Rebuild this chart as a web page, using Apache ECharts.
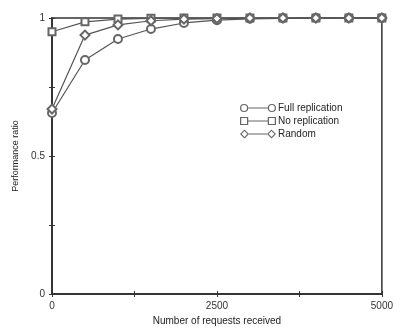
<!DOCTYPE html>
<html><head><meta charset="utf-8">
<script src="https://cdn.jsdelivr.net/npm/echarts@6/dist/echarts.min.js"></script>
<style>html,body{margin:0;padding:0;background:#fff}#c{width:396px;height:331px}</style>
</head><body><div id="c"></div>
<script>
const requests = [0, 500, 1000, 1500, 2000, 2500, 3000, 3500, 4000, 4500, 5000];
const fullReplication = [0.656, 0.848, 0.924, 0.96, 0.982, 0.992, 0.997, 0.999, 1.0, 1.0, 1.0];
const noReplication = [0.95, 0.986, 0.996, 0.999, 1.0, 1.0, 1.0, 1.0, 1.0, 1.0, 1.0];
const random = [0.67, 0.938, 0.975, 0.99, 0.996, 0.998, 1.0, 1.0, 1.0, 1.0, 1.0];
const xTickLabels = {0: '0', 2500: '2500', 5000: '5000'};
const yTickLabels = {0: '0', 0.5: '0.5', 1: '1'};

const font = 'Liberation Sans';
const lineCol = '#555';
const mkCol = '#666';
function pairs(ys){ return requests.map((x,i)=>[x, ys[i]]); }
function s(name, ys, sym, size){
  return {name, type:'line', data:pairs(ys), symbol:sym, symbolSize:size,
    showAllSymbol:true, smooth:false,
    lineStyle:{color:lineCol, width:1.2},
    itemStyle:{color:mkCol, borderColor:mkCol, borderWidth:1.3}};
}
const lineSeg = 'M8.5,4 L27.5,4 L27.5,5 L8.5,5 Z ';
const ringL = 'M0.5,4.5 A4,4 0 1,1 8.5,4.5 A4,4 0 1,1 0.5,4.5 Z M1.7,4.5 A2.8,2.8 0 1,0 7.3,4.5 A2.8,2.8 0 1,0 1.7,4.5 Z ';
const ringR = 'M27.5,4.5 A4,4 0 1,1 35.5,4.5 A4,4 0 1,1 27.5,4.5 Z M28.7,4.5 A2.8,2.8 0 1,0 34.3,4.5 A2.8,2.8 0 1,0 28.7,4.5 Z';
const sqL = 'M0.5,0.5 L8.5,0.5 L8.5,8.5 L0.5,8.5 Z M1.7,1.7 L1.7,7.3 L7.3,7.3 L7.3,1.7 Z ';
const sqR = 'M27.5,0.5 L35.5,0.5 L35.5,8.5 L27.5,8.5 Z M28.7,1.7 L28.7,7.3 L34.3,7.3 L34.3,1.7 Z';
const dmL = 'M4.5,0 L9,4.5 L4.5,9 L0,4.5 Z M4.5,1.6 L1.6,4.5 L4.5,7.4 L7.4,4.5 Z ';
const dmR = 'M31.5,0 L36,4.5 L31.5,9 L27,4.5 Z M31.5,1.6 L28.6,4.5 L31.5,7.4 L34.4,4.5 Z';

const chart = echarts.init(document.getElementById('c'), null, {renderer:'canvas'});
chart.setOption({
  animation:false,
  backgroundColor:'#fff',
  textStyle:{fontFamily:font},
  grid:{left:52, right:10, top:18, bottom:37, show:true, borderColor:'#333', borderWidth:1.5},
  legend:{
    left:235, top:98, orient:'vertical', itemGap:3, itemWidth:36, itemHeight:9,
    itemStyle:{borderWidth:0}, lineStyle:{width:0},
    textStyle:{fontFamily:font, fontSize:10, color:'#222', padding:[0,0,0,-3]},
    data:[
      {name:'Full replication', icon:'path://' + ringL + lineSeg + ringR},
      {name:'No replication', icon:'path://' + sqL + lineSeg + sqR},
      {name:'Random', icon:'path://' + dmL + 'M9,4 L27,4 L27,5 L9,5 Z ' + dmR}
    ]
  },
  xAxis:[{
    type:'value', min:0, max:5000, interval:1250, position:'bottom',
    name:'Number of requests received', nameLocation:'middle', nameGap:22,
    nameTextStyle:{fontFamily:font, fontSize:10, color:'#222'},
    axisLine:{lineStyle:{color:'#333', width:1.5}},
    axisTick:{inside:true, length:3, lineStyle:{color:'#333'}},
    splitLine:{show:false},
    axisLabel:{fontFamily:font, fontSize:10, color:'#333', margin:7,
      formatter:v=> xTickLabels[v] !== undefined ? xTickLabels[v] : ''}
  },{
    type:'value', min:0, max:5000, interval:1250, position:'top',
    axisLine:{show:true, lineStyle:{color:'#333', width:1.5}},
    axisTick:{inside:true, length:3, lineStyle:{color:'#333'}},
    axisLabel:{show:false}, splitLine:{show:false}
  }],
  yAxis:[{
    type:'value', min:0, max:1, interval:0.25, position:'left',
    name:'Performance ratio', nameLocation:'middle', nameGap:32, nameRotate:90,
    nameTextStyle:{fontFamily:font, fontSize:9, color:'#222'},
    axisLine:{show:true, lineStyle:{color:'#333', width:1.5}},
    axisTick:{inside:true, length:3, lineStyle:{color:'#333'}},
    splitLine:{show:false},
    axisLabel:{fontFamily:font, fontSize:10, color:'#333', margin:7,
      formatter:v=> yTickLabels[v] !== undefined ? yTickLabels[v] : ''}
  },{
    type:'value', min:0, max:1, interval:0.25, position:'right',
    axisLine:{show:true, lineStyle:{color:'#333', width:1.5}},
    axisTick:{inside:true, length:3, lineStyle:{color:'#333'}},
    axisLabel:{show:false}, splitLine:{show:false}
  }],
  series:[
    s('Full replication', fullReplication, 'emptyCircle', 8),
    s('No replication', noReplication, 'emptyRect', 7),
    s('Random', random, 'emptyDiamond', 9)
  ]
});
</script></body></html>
